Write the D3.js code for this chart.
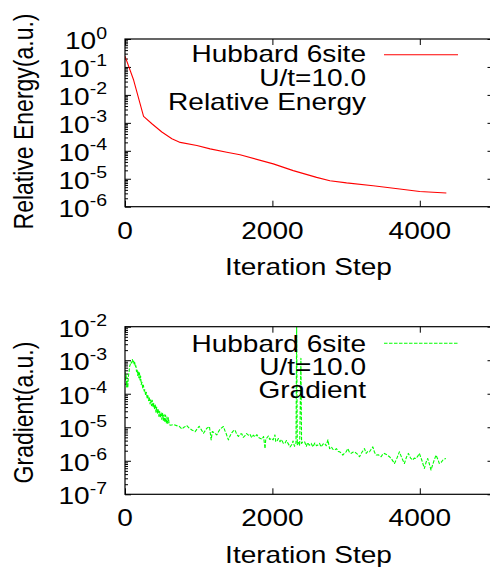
<!DOCTYPE html>
<html><head><meta charset="utf-8">
<script src="https://cdn.jsdelivr.net/npm/d3@7"></script>
<style>body{margin:0;background:#fff}svg{display:block}</style>
</head><body>
<svg id="c" width="490" height="567"></svg>
<script>
// ---------- data ----------
const xTicks = [0, 2000, 4000];
const energyTickExp = [0, -1, -2, -3, -4, -5, -6];
const gradTickExp = [-2, -3, -4, -5, -6, -7];
const legendEnergy = ["Hubbard 6site", "U/t=10.0", "Relative Energy"];
const legendGrad = ["Hubbard 6site", "U/t=10.0", "Gradient"];
const xTitle = "Iteration Step";
const yTitleEnergy = "Relative Energy(a.u.)";
const yTitleGrad = "Gradient(a.u.)";

const energyIter = [0, 117, 252, 365, 500, 636, 749, 975, 1155, 1381, 1561, 2012, 2283, 2600, 2780, 3006, 3367, 3728, 3999, 4360];
const energyVal = [0.245, 0.034, 1.7e-3, 9.3e-4, 4.7e-4, 2.7e-4, 2.0e-4, 1.55e-4, 1.17e-4, 8.9e-5, 7.2e-5, 3.4e-5, 1.95e-5, 1.12e-5, 8.5e-6, 7.1e-6, 5.6e-6, 4.3e-6, 3.5e-6, 3.1e-6];

const gradIter = [0, 8, 15, 22, 30, 38, 45, 55, 62, 72, 80, 90, 100, 108, 116, 124, 132, 140, 148, 156, 164, 172, 180, 188, 196, 204, 212, 220, 230, 240, 250, 260, 270, 280, 290, 300, 310, 320, 330, 340, 350, 360, 370, 380, 390, 400, 410, 420, 430, 440, 450, 460, 470, 480, 490, 500, 510, 520, 530, 540, 550, 560, 570, 580, 590, 600,
  620, 660, 700, 740, 771, 800, 839, 870, 907, 952, 980, 1006, 1035, 1065, 1090, 1110, 1146, 1160, 1169, 1185, 1200, 1225, 1245, 1270, 1290, 1335, 1355, 1372, 1403, 1425, 1448, 1470, 1493, 1515, 1539, 1560, 1584, 1605, 1629, 1650, 1674, 1695, 1719, 1740, 1764, 1790, 1810, 1832, 1860, 1880, 1900, 1910, 1922, 1945, 1965, 1990, 2010, 2035, 2045, 2058, 2080, 2103, 2125, 2148,
  2170, 2190, 2216, 2240, 2261, 2280, 2300, 2320, 2329, 2338, 2355, 2370, 2387, 2396, 2410, 2437, 2460, 2480, 2500, 2527, 2550, 2575, 2600, 2617, 2640, 2660, 2690, 2708, 2730, 2753, 2776, 2800, 2820, 2843, 2870, 2890, 2911, 2935, 2956, 2980, 3001, 3024, 3045, 3069, 3090, 3114, 3150, 3182, 3215, 3250, 3272, 3295, 3318, 3340, 3363, 3385, 3408, 3440, 3475, 3500, 3520, 3555, 3588, 3620, 3656, 3690, 3723, 3757, 3791, 3820, 3845, 3875, 3904, 3925, 3949, 3975, 3994, 4030, 4062, 4085, 4107, 4130, 4152, 4185, 4220, 4245, 4265, 4290, 4320, 4355];
const gradVal = [4.5e-4, 2.6e-4, 3.8e-4, 1.6e-4, 2.4e-4, 1.5e-4, 3.2e-4, 4.5e-4, 6.5e-4, 7.5e-4, 9.0e-4, 8.2e-4, 1.05e-3, 9.0e-4, 1.0e-3, 7.6e-4, 8.5e-4, 6.2e-4, 6.8e-4, 4.6e-4, 5.4e-4, 3.5e-4, 4.6e-4, 3.0e-4, 4.2e-4, 2.6e-4, 3.4e-4, 1.9e-4, 2.2e-4, 1.5e-4, 1.8e-4, 1.2e-4, 1.3e-4, 8.8e-5, 1.1e-4, 7.5e-5, 8.8e-5, 6.2e-5, 8.0e-5, 5.0e-5, 6.6e-5, 4.4e-5, 6.4e-5, 3.9e-5, 5.2e-5, 3.4e-5, 4.8e-5, 2.8e-5, 4.0e-5, 2.5e-5, 3.5e-5, 2.1e-5, 3.0e-5, 1.9e-5, 2.8e-5, 1.7e-5, 2.6e-5, 1.6e-5, 2.4e-5, 1.4e-5, 2.3e-5, 1.3e-5, 2.0e-5, 1.3e-5, 1.9e-5, 1.2e-5,
  1.15e-5, 1.2e-5, 1.12e-5, 1.05e-5, 8.9e-6, 1.0e-5, 1.12e-5, 9.5e-6, 8.3e-6, 7.4e-6, 9.0e-6, 1.07e-5, 8.5e-6, 6.6e-6, 8.0e-6, 9.3e-6, 1.05e-5, 6.0e-6, 4.2e-6, 7.5e-6, 7.1e-6, 6.5e-6, 5.9e-6, 7.5e-6, 8.8e-6, 1.05e-5, 8.0e-6, 6.5e-6, 4.2e-6, 5.5e-6, 6.8e-6, 7.8e-6, 8.3e-6, 6.2e-6, 5.3e-6, 6.2e-6, 6.4e-6, 5.0e-6, 5.6e-6, 6.5e-6, 5.8e-6, 6.2e-6, 4.9e-6, 5.8e-6, 5.2e-6, 6.0e-6, 5.0e-6, 4.7e-6, 4.4e-6, 5.3e-6, 2.3e-6, 4.5e-6, 4.7e-6, 5.5e-6, 4.3e-6, 4.7e-6, 4.2e-6, 5.9e-6, 3.8e-6, 3.7e-6, 4.6e-6, 3.7e-6, 4.3e-6, 3.3e-6,
  3.3e-6, 4.0e-6, 3.2e-6, 2.6e-6, 3.0e-6, 3.9e-6, 2.7e-6, 3.3e-6, 1.0e-2, 3.0e-6, 3.8e-6, 2.8e-6, 1.15e-3, 3.3e-6, 3.6e-6, 3.7e-6, 2.7e-6, 3.5e-6, 2.9e-6, 3.3e-6, 2.6e-6, 3.4e-6, 2.8e-6, 2.95e-6, 3.3e-6, 2.6e-6, 3.2e-6, 3.3e-6, 2.8e-6, 4.2e-6, 2.3e-6, 2.6e-6, 2.2e-6, 2.1e-6, 2.3e-6, 1.9e-6, 1.85e-6, 1.7e-6, 1.48e-6, 1.7e-6, 1.85e-6, 2.3e-6, 1.8e-6, 1.66e-6, 1.8e-6, 1.85e-6, 1.6e-6, 1.32e-6, 1.8e-6, 2.3e-6, 1.66e-6, 1.9e-6, 1.85e-6, 2.2e-6, 2.6e-6, 1.8e-6, 1.48e-6, 1.5e-6, 1.32e-6, 1.6e-6, 1.66e-6, 1.5e-6, 1.32e-6, 1.1e-6, 8.3e-7, 1.2e-6, 1.85e-6, 1.2e-6, 8.3e-7, 1.3e-6, 1.66e-6, 1.2e-6, 1.05e-6, 1.2e-6, 1.17e-6, 1.4e-6, 1.66e-6, 1.0e-6, 5.9e-7, 9.0e-7, 1.17e-6, 8.0e-7, 5.3e-7, 9.0e-7, 1.48e-6, 1.1e-6, 8.3e-7, 9.0e-7, 1.1e-6, 1.17e-6];

// ---------- drawing ----------
const svg = d3.select("#c");
const FONT = "'Liberation Sans', Arial, Helvetica, sans-serif";
const SX = 1.22;
const xLeft = 125, xRight = 493.5;

function stretchText(g, x, y, anchor, str, size) {
  return g.append("text")
    .attr("transform", `translate(${x},${y}) scale(${SX},1)`)
    .attr("text-anchor", anchor)
    .attr("font-family", FONT)
    .attr("font-size", size)
    .attr("fill", "#000")
    .text(str);
}

function drawPanel(cfg) {
  const g = svg.append("g");
  const x = d3.scaleLinear().domain([0, 5000]).range([xLeft, xRight]);
  const y = d3.scaleLog().domain([Math.pow(10, d3.min(cfg.exps)), Math.pow(10, d3.max(cfg.exps))]).range([cfg.bottom, cfg.top]);

  const major = cfg.exps.map(e => Math.pow(10, e));
  const minor = [];
  const eMin = d3.min(cfg.exps), eMax = d3.max(cfg.exps);
  for (let e = eMin; e < eMax; e++) for (let k = 2; k <= 9; k++) minor.push(k * Math.pow(10, e));

  const clipId = "clip" + cfg.id;
  g.append("clipPath").attr("id", clipId).append("rect")
    .attr("x", xLeft).attr("y", cfg.top).attr("width", xRight - xLeft).attr("height", cfg.bottom - cfg.top);

  // axes ticks (inward, gnuplot style)
  const addAxis = (axis, tx, ty) => {
    const a = g.append("g").attr("transform", `translate(${tx},${ty})`).call(axis);
    a.select(".domain").remove();
    a.selectAll("line").attr("stroke", "#000").attr("stroke-width", 1);
    a.selectAll("text").remove();
  };
  addAxis(d3.axisLeft(y).tickValues(major).tickSize(-6).tickFormat(""), xLeft, 0);
  addAxis(d3.axisLeft(y).tickValues(minor).tickSize(-3).tickFormat(""), xLeft, 0);
  addAxis(d3.axisRight(y).tickValues(major).tickSize(-6).tickFormat(""), xRight, 0);
  addAxis(d3.axisRight(y).tickValues(minor).tickSize(-3).tickFormat(""), xRight, 0);
  addAxis(d3.axisBottom(x).tickValues(xTicks).tickSize(-6).tickFormat(""), 0, cfg.bottom);
  addAxis(d3.axisTop(x).tickValues(xTicks).tickSize(-6).tickFormat(""), 0, cfg.top);

  // data line
  const line = d3.line().x(d => x(d[0])).y(d => y(d[1]));
  const pts = cfg.iter.map((it, i) => [it, cfg.val[i]]);
  g.append("path").attr("clip-path", `url(#${clipId})`)
    .attr("d", line(pts)).attr("fill", "none")
    .attr("stroke", cfg.color).attr("stroke-width", cfg.width)
    .attr("stroke-dasharray", cfg.dash || null)
    .attr("stroke-linejoin", "round");

  // frame
  g.append("rect").attr("x", xLeft).attr("y", cfg.top)
    .attr("width", xRight - xLeft).attr("height", cfg.bottom - cfg.top)
    .attr("fill", "none").attr("stroke", "#000").attr("stroke-width", 1.2);

  // y tick labels 10^e
  cfg.exps.forEach(e => {
    const t = stretchText(g, 107, y(Math.pow(10, e)) + 10, "end", "", 23);
    t.append("tspan").text("10");
    t.append("tspan").attr("font-size", 16).attr("dy", -10.5).text(String(e));
  });

  // x tick labels
  xTicks.forEach(v => stretchText(g, x(v), cfg.xLabelY, "middle", String(v), 23));

  // x title
  stretchText(g, 308.5, cfg.xTitleY, "middle", xTitle, 23);

  // y title (rotated)
  g.append("text")
    .attr("transform", `translate(33,${cfg.yTitleC}) scale(${SX},1) rotate(-90)`)
    .attr("text-anchor", "middle").attr("font-family", FONT).attr("font-size", 23)
    .attr("fill", "#000").text(cfg.yTitle);

  // legend
  cfg.legend.forEach((s, i) => stretchText(g, 366, cfg.legendY[i], "end", s, 23));
  g.append("line").attr("x1", 384).attr("x2", 458)
    .attr("y1", cfg.sampleY).attr("y2", cfg.sampleY)
    .attr("stroke", cfg.color).attr("stroke-width", cfg.width)
    .attr("stroke-dasharray", cfg.dash || null);
}

drawPanel({
  id: "E", top: 39, bottom: 206.7, exps: energyTickExp,
  iter: energyIter, val: energyVal, color: "#ff0000", width: 1.1,
  xLabelY: 238.5, xTitleY: 275, yTitle: yTitleEnergy, yTitleC: 121.5,
  legend: legendEnergy, legendY: [62, 86, 110], sampleY: 54.7
});
drawPanel({
  id: "G", top: 326.7, bottom: 494.3, exps: gradTickExp,
  iter: gradIter, val: gradVal, color: "#00ff00", width: 1.1, dash: "3.5,1.5",
  xLabelY: 526, xTitleY: 563, yTitle: yTitleGrad, yTitleC: 412.5,
  legend: legendGrad, legendY: [351.7, 375, 398.3], sampleY: 343.3
});
</script>
</body></html>
